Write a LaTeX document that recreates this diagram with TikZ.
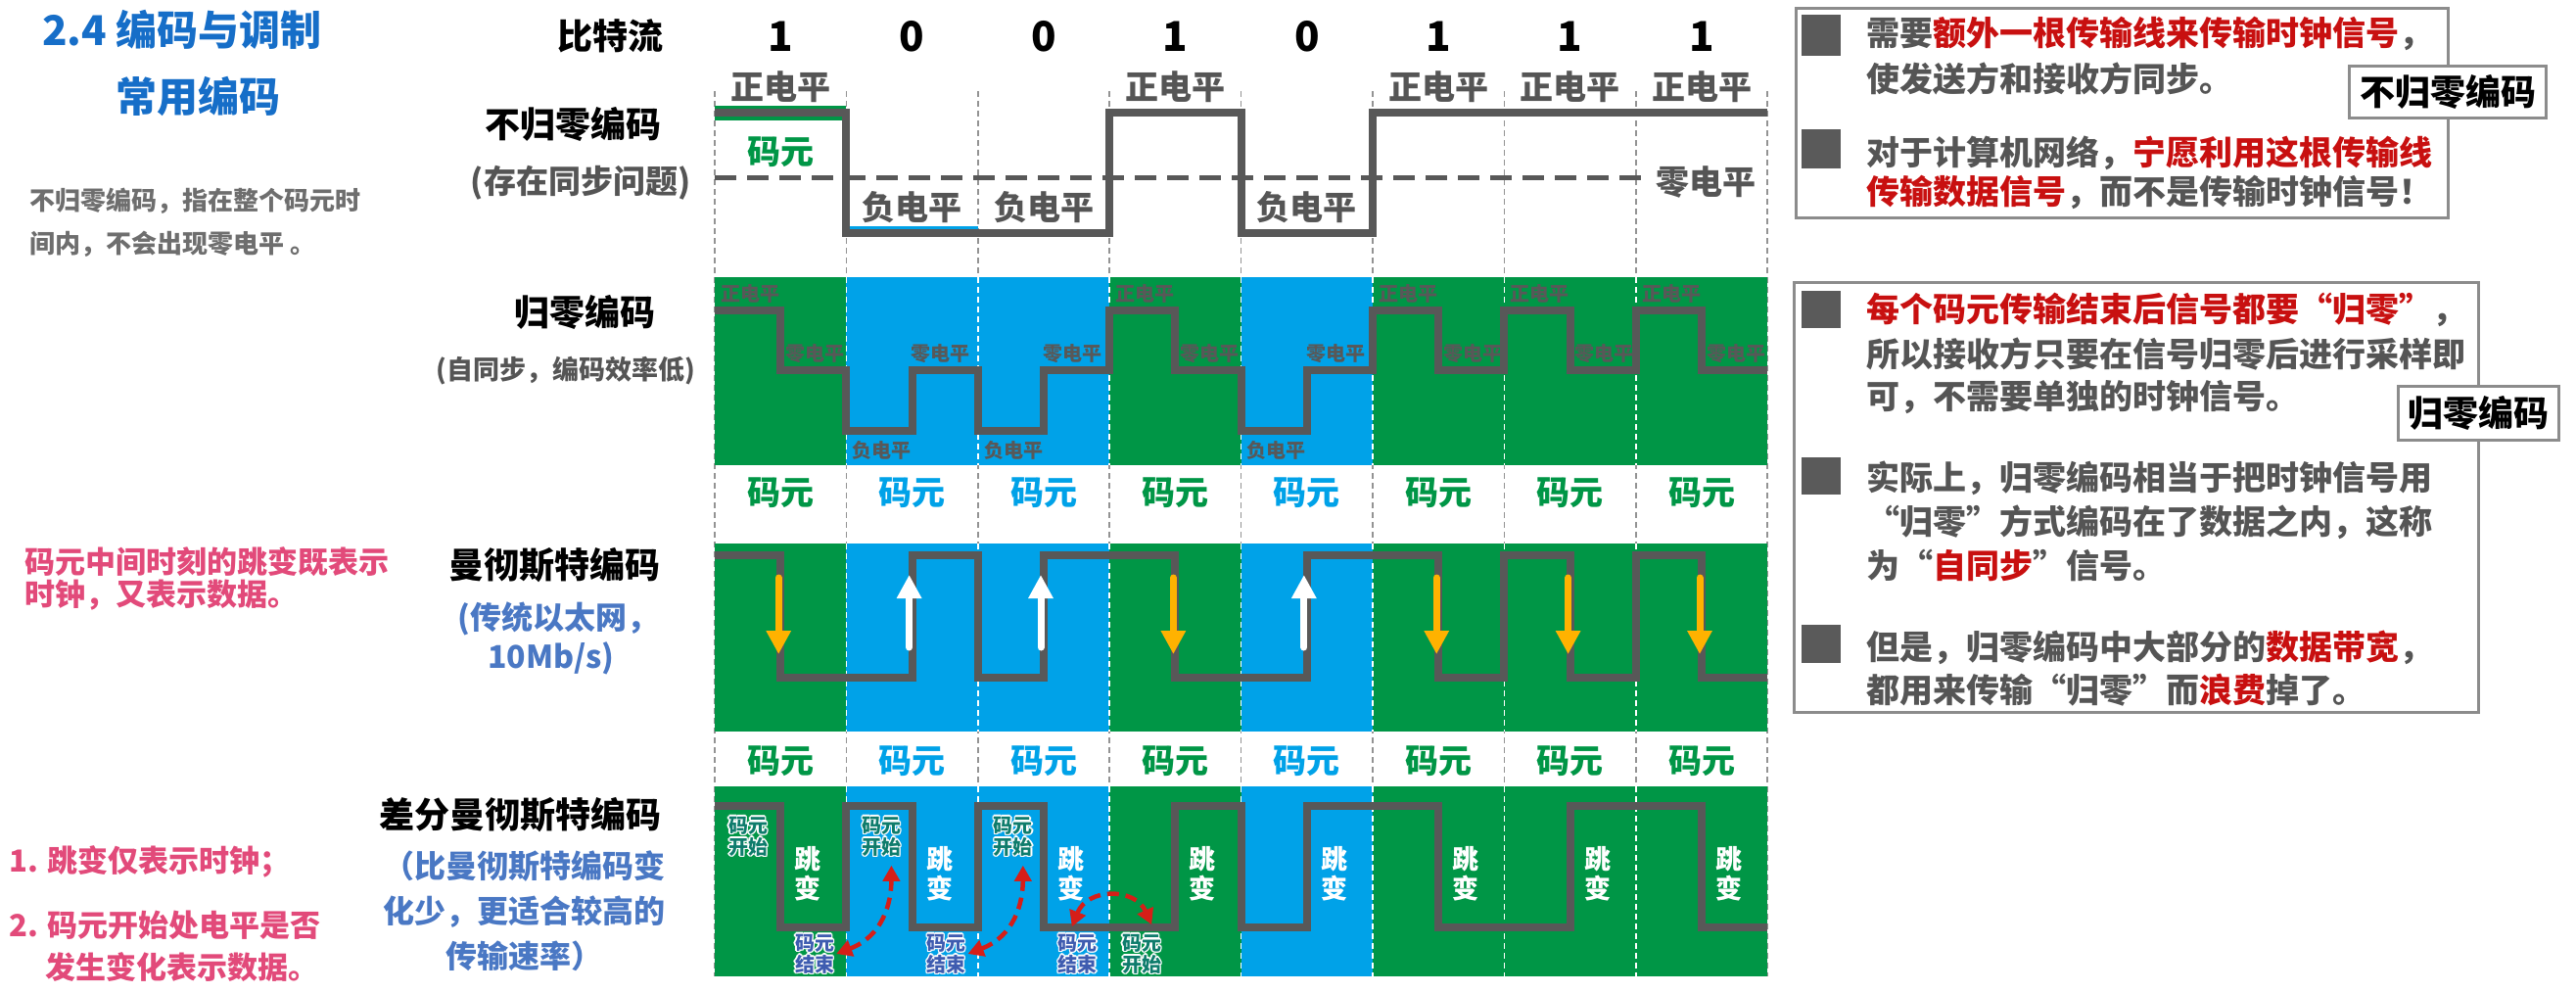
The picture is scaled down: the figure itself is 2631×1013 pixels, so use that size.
\documentclass[tikz,border=0pt]{standalone}
\usepackage{fontspec}
\setmainfont{Noto Sans CJK SC}
\usetikzlibrary{arrows.meta}
\definecolor{grn}{RGB}{0,150,70}
\definecolor{blu}{RGB}{0,162,232}
\definecolor{sig}{RGB}{88,88,88}
\definecolor{txtg}{RGB}{85,85,85}
\definecolor{redt}{RGB}{200,16,16}
\definecolor{ttlc}{RGB}{22,110,200}
\definecolor{pnk}{RGB}{226,74,122}
\definecolor{bsc}{RGB}{74,120,196}
\definecolor{org}{RGB}{255,178,0}
\definecolor{stc}{RGB}{14,124,108}
\definecolor{enc}{RGB}{62,92,176}
\definecolor{boxc}{RGB}{140,140,140}
\definecolor{bulc}{RGB}{90,90,90}
\definecolor{notec}{RGB}{110,110,110}
\definecolor{arrc}{RGB}{214,30,24}
\newcommand\fsz[1]{\fontsize{#1}{#1}\selectfont}
\newcommand\olt[2]{\leavevmode\rlap{\color{white}\kern-1.4pt#2}\rlap{\color{white}\kern1.4pt#2}\rlap{\color{white}\raisebox{1.4pt}{#2}}\rlap{\color{white}\raisebox{-1.4pt}{#2}}\rlap{\color{white}\kern1pt\raisebox{1pt}{#2}}\rlap{\color{white}\kern-1pt\raisebox{-1pt}{#2}}\rlap{\color{white}\kern1pt\raisebox{-1pt}{#2}}\rlap{\color{white}\kern-1pt\raisebox{1pt}{#2}}{\color{#1}#2}}
\begin{document}
\begin{tikzpicture}[x=1pt,y=-1pt,
  every node/.style={inner sep=0pt},
  hd/.style={font=\fsz{36}\bfseries, text=black},
  subh/.style={font=\fsz{33}\bfseries, text=txtg},
  bsub/.style={font=\fontsize{32}{46}\selectfont\bfseries, text=bsc, align=center},
  pk/.style={font=\fsz{31}\bfseries, text=pnk, anchor=west},
  bitl/.style={font=\fsz{42}\bfseries, text=black},
  lvl/.style={font=\fsz{34}\bfseries, text=txtg},
  rzl/.style={font=\fsz{20}\bfseries, text=sig, anchor=west},
  cy/.style={font=\fsz{34}\bfseries},
  jb/.style={font=\fontsize{27}{30}\selectfont\bfseries, text=white, align=center},
  sm/.style={font=\fontsize{20}{22}\selectfont\bfseries, align=center},
  bt/.style={font=\fsz{34}\bfseries, text=txtg, anchor=west},
  lab/.style={draw=boxc, line width=3pt, fill=white, font=\fsz{36}\bfseries, text=black},
  boxst/.style={draw=boxc, line width=3pt, fill=white},
  sigline/.style={draw=sig, line width=8pt},
  gridl/.style={draw=gray!85, line width=1.5pt, dash pattern=on 6pt off 4pt},
  bandl/.style={draw=white, line width=1.5pt, dash pattern=on 6pt off 4pt},
  darr/.style={draw=org, line width=7pt, line cap=round, -{Triangle[length=24pt,width=24pt]}},
  uarr/.style={draw=white, line width=7pt, line cap=round, -{Triangle[length=24pt,width=24pt]}},
  redarr/.style={draw=arrc, line width=4.5pt, dash pattern=on 12pt off 7pt, {Triangle[length=16pt,width=17pt]}-{Triangle[length=16pt,width=17pt]}}
]
\useasboundingbox (0,0) rectangle (2631,1013);
\fill[white] (0,0) rectangle (2631,1013);

% ---------- left texts ----------
\node[font=\fsz{42}\bfseries, text=ttlc] (tt1) at (186,30) {2.4 编码与调制};
\node[font=\fsz{42}\bfseries, text=ttlc] (tt2) at (202,98) {常用编码};
\node[font=\fsz{26}\bfseries, text=notec, anchor=west] (n1) at (30,205) {不归零编码，指在整个码元时};
\node[font=\fsz{26}\bfseries, text=notec, anchor=west] (n2) at (30,249) {间内，不会出现零电平 。};
\node[pk] (pk1) at (25,574) {码元中间时刻的跳变既表示};
\node[pk] (pk2) at (25,608) {时钟，又表示数据。};
\node[pk] (pk3) at (9,880) {1. 跳变仅表示时钟；};
\node[pk] (pk4) at (9,945) {2. 码元开始处电平是否};
\node[pk] (pk5) at (46,988) {发生变化表示数据。};

% ---------- headings ----------
\node[hd] (hBit) at (623,37) {比特流};
\node[hd] (hNRZ) at (585,127) {不归零编码};
\node[subh] (sNRZ) at (593,187) {(存在同步问题)};
\node[hd] (hRZ) at (597,319) {归零编码};
\node[subh, font=\fsz{27}\bfseries] (sRZ) at (578,379) {(自同步，编码效率低)};
\node[hd] (hM) at (566,577) {曼彻斯特编码};
\node[bsub] (sM1) at (570,632) {(传统以太网，};
\node[bsub] (sM2) at (563,672) {10Mb/s)};
\node[hd] (hDM) at (531,832) {差分曼彻斯特编码};
\node[bsub] (sDM) at (535,930) {（比曼彻斯特编码变\\化少，更适合较高的\\传输速率）};

% ---------- grid and bands ----------
\foreach \k in {0,...,8}{
  \draw[gridl] ({730+\k*134.4},93) -- ({730+\k*134.4},997);
}
\foreach \i/\bv in {0/1,1/0,2/0,3/1,4/0,5/1,6/1,7/1}{
  \pgfmathsetmacro\xl{730+\i*134.4}
  \pgfmathsetmacro\xc{\xl+67.2}
  \pgfmathsetmacro\xr{\xl+134.4}
  \ifnum\bv=1 \def\colr{grn}\else\def\colr{blu}\fi
  \fill[\colr] (\xl,283) rectangle (\xr,475);
  \fill[\colr] (\xl,555) rectangle (\xr,747);
  \fill[\colr] (\xl,803) rectangle (\xr,997);
  \node[bitl] (bit\i) at (\xc,37) {\bv};
  \node[cy, text=\colr] (cyA\i) at (\xc,503) {码元};
  \node[cy, text=\colr] (cyB\i) at (\xc,777) {码元};
}
\foreach \k in {1,...,7}{
  \draw[bandl] ({730+\k*134.4},283) -- ({730+\k*134.4},475);
  \draw[bandl] ({730+\k*134.4},555) -- ({730+\k*134.4},747);
  \draw[bandl] ({730+\k*134.4},803) -- ({730+\k*134.4},997);
}

% ---------- NRZ ----------
\draw[grn, line width=4pt] (730,109.5) -- (864.4,109.5);
\draw[grn, line width=4pt] (730,120.5) -- (864.4,120.5);
\draw[blu, line width=3pt] (864.4,232.5) -- (998.8,232.5);
\draw[sig, line width=5pt, dash pattern=on 22pt off 11pt] (730,181) -- (1680,181);
\draw[sigline] (730,115) -- (864.4,115) -- (864.4,238) -- (1133.2,238) -- (1133.2,115) -- (1267.6,115) -- (1267.6,238) -- (1402,238) -- (1402,115) -- (1805.2,115);
\node[lvl] (zl) at (1742,186) {零电平};
\node[cy, text=grn] (cyN) at (797,155) {码元};

% ---------- RZ ----------
\draw[sigline] (730,317) -- (797.2,317) -- (797.2,378) -- (864.4,378) -- (864.4,440) -- (931.6,440) -- (931.6,378) -- (998.8,378) -- (998.8,440) -- (1066,440) -- (1066,378) -- (1133.2,378) -- (1133.2,317) -- (1200.4,317) -- (1200.4,378) -- (1267.6,378) -- (1267.6,440) -- (1334.8,440) -- (1334.8,378) -- (1402,378) -- (1402,317) -- (1469.2,317) -- (1469.2,378) -- (1536.4,378) -- (1536.4,317) -- (1603.6,317) -- (1603.6,378) -- (1670.8,378) -- (1670.8,317) -- (1738,317) -- (1738,378) -- (1805.2,378);

% ---------- Manchester ----------
\draw[sigline] (730,567) -- (797.2,567) -- (797.2,692) -- (931.6,692) -- (931.6,567) -- (998.8,567) -- (998.8,692) -- (1066,692) -- (1066,567) -- (1200.4,567) -- (1200.4,692) -- (1334.8,692) -- (1334.8,567) -- (1469.2,567) -- (1469.2,692) -- (1536.4,692) -- (1536.4,567) -- (1603.6,567) -- (1603.6,692) -- (1670.8,692) -- (1670.8,567) -- (1738,567) -- (1738,692) -- (1805.2,692);

% ---------- differential Manchester ----------
\draw[sigline] (730,823) -- (797.2,823) -- (797.2,947) -- (864.4,947) -- (864.4,823) -- (931.6,823) -- (931.6,947) -- (998.8,947) -- (998.8,823) -- (1066,823) -- (1066,947) -- (1200.4,947) -- (1200.4,823) -- (1267.6,823) -- (1267.6,947) -- (1334.8,947) -- (1334.8,823) -- (1469.2,823) -- (1469.2,947) -- (1603.6,947) -- (1603.6,823) -- (1738,823) -- (1738,947) -- (1805.2,947);

% ---------- per-column labels ----------
\foreach \i/\bv in {0/1,1/0,2/0,3/1,4/0,5/1,6/1,7/1}{
  \pgfmathsetmacro\xl{730+\i*134.4}
  \pgfmathsetmacro\xc{\xl+67.2}
  \ifnum\bv=1
    \node[lvl] (nz\i) at (\xc,89) {正电平};
    \node[rzl] (rzH\i) at (\xl+6,300) {正电平};
    \node[rzl] (rzZ\i) at (\xc+5,361) {零电平};
    \draw[darr] (\xc-2,590) -- (\xc-2,668);
  \else
    \node[lvl] (nz\i) at (\xc,212) {负电平};
    \node[rzl] (rzL\i) at (\xl+6,460) {负电平};
    \node[rzl] (rzZ\i) at (\xc-1,361) {零电平};
    \draw[uarr] (\xc-3,661) -- (\xc-3,587);
  \fi
  \node[jb] (jb\i) at (\xc+28,892) {跳\\变};
}
\node[sm] (dmS0) at (764,854) {\olt{stc}{码元}\\\olt{stc}{开始}};
\node[sm] (dmS1) at (900.4,854) {\olt{stc}{码元}\\\olt{stc}{开始}};
\node[sm] (dmS2) at (1034.8,854) {\olt{stc}{码元}\\\olt{stc}{开始}};
\node[sm] (dmE0) at (832,974) {\olt{enc}{码元}\\\olt{enc}{结束}};
\node[sm] (dmE1) at (966.4,974) {\olt{enc}{码元}\\\olt{enc}{结束}};
\node[sm] (dmE2) at (1100.8,974) {\olt{enc}{码元}\\\olt{enc}{结束}};
\node[sm] (dmS3) at (1166.2,974) {\olt{stc}{码元}\\\olt{stc}{开始}};
\draw[redarr] ([xshift=2pt]dmE0.east) .. controls +(47,-18) and +(0,39) .. ([xshift=10pt,yshift=-8pt]dmS1.south);
\draw[redarr] ([xshift=2pt]dmE1.east) .. controls +(47,-18) and +(0,39) .. ([xshift=10pt,yshift=-8pt]dmS2.south);
\draw[redarr] ([xshift=-6pt,yshift=6pt]dmE2.north) .. controls +(16,-40) and +(-17,-38) .. ([xshift=10pt,yshift=8pt]dmS3.north);

% ---------- right box 1 ----------
\draw[boxst] (1834,8) rectangle (2500,222);
\fill[bulc] (1840,15) rectangle (1880,57);
\fill[bulc] (1840,132) rectangle (1880,172);
\node[bt] (a1) at (1906,34) {需要\textcolor{redt}{额外一根传输线来传输时钟信号}，};
\node[bt] (a2) at (1906,80) {使发送方和接收方同步。};
\node[bt] (a3) at (1906,156) {对于计算机网络，\textcolor{redt}{宁愿利用这根传输线}};
\node[bt] (a4) at (1906,196) {\textcolor{redt}{传输数据信号}，而不是传输时钟信号！};
\node[lab, minimum width=201pt, minimum height=53pt] (lab1) at (2500,94) {不归零编码};

% ---------- right box 2 ----------
\draw[boxst] (1832,288) rectangle (2531,727);
\fill[bulc] (1840,297) rectangle (1880,335);
\fill[bulc] (1840,467) rectangle (1880,505);
\fill[bulc] (1840,638) rectangle (1880,677);
\node[bt] (c1) at (1906,316) {\textcolor{redt}{每个码元传输结束后信号都要“归零”}，};
\node[bt] (c2) at (1906,362) {所以接收方只要在信号归零后进行采样即};
\node[bt] (c3) at (1906,406) {可，不需要单独的时钟信号。};
\node[bt] (c4) at (1906,488) {实际上，归零编码相当于把时钟信号用};
\node[bt] (c5) at (1906,533) {“归零”方式编码在了数据之内，这称};
\node[bt] (c6) at (1906,577) {为“\textcolor{redt}{自同步}”信号。};
\node[bt] (c7) at (1906,661) {但是，归零编码中大部分的\textcolor{redt}{数据带宽}，};
\node[bt] (c8) at (1906,705) {都用来传输“归零”而\textcolor{redt}{浪费}掉了。};
\node[lab, minimum width=164pt, minimum height=55pt] (lab2) at (2531,422) {归零编码};
\end{tikzpicture}
\end{document}
